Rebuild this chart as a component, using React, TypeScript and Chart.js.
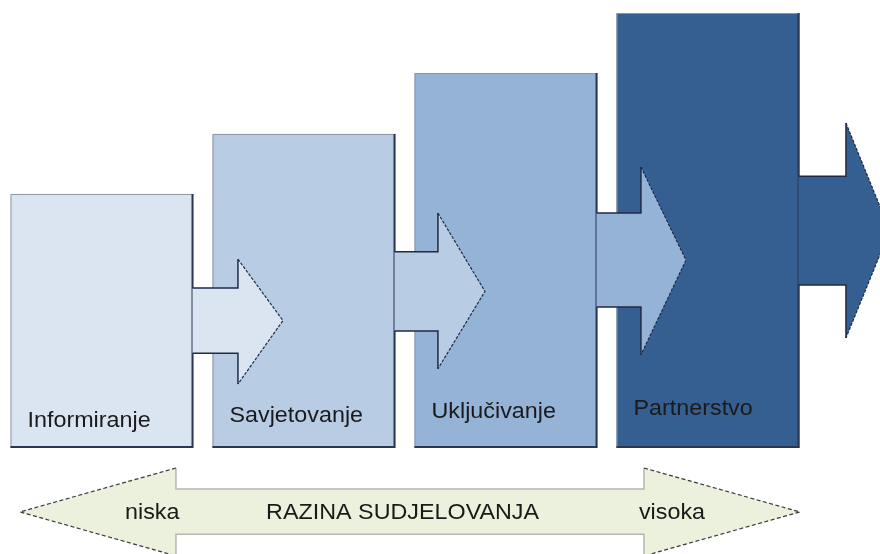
import { useEffect, useRef } from 'react';
import { Chart, registerables } from 'chart.js';

Chart.register(...registerables);

// Stages of participation (bar heights in relative units)
const categories = ['Informiranje', 'Savjetovanje', 'Uključivanje', 'Partnerstvo'];
const levels = [58.4, 72.2, 86.2, 100];

// Connecting arrows (y in value units, x in category-index units)
const shaftTop = [36.8, 45.1, 54.0, 62.5];
const shaftBottom = [21.8, 26.9, 32.4, 37.5];
const headTop = [43.4, 54.0, 64.6, 74.7];
const headBottom = [14.7, 18.2, 21.4, 25.3];
const headBase = [0.673, 1.663, 2.668, 3.683];
const headTip = [0.896, 1.896, 2.891, 3.9];

// Bottom double-headed scale arrow
const scaleTitle = 'RAZINA SUDJELOVANJA';
const scaleEnds = ['niska', 'visoka'];
const scaleArrowX = [-0.406, 0.366, 2.683, 3.455]; // left tip, left head base, right head base, right tip
const scaleArrowY = [-4.6, -9.4, -14.7, -19.8, -24.8]; // head top, shaft top, centre, shaft bottom, head bottom
const scaleTextX = [0.114, 1.488, 2.658]; // niska (left), title (centre), visoka (left)

const barColors = ['#DBE5F1', '#B8CCE4', '#95B3D7', '#365F91'];
const labelLift = [21, 26, 30, 33];
const TEXT_STRETCH = 1.06;

function stretchedText(ctx: CanvasRenderingContext2D, text: string, x: number, y: number, align: CanvasTextAlign) {
  ctx.save();
  ctx.translate(x, y);
  ctx.scale(TEXT_STRETCH, 1);
  ctx.textAlign = align;
  ctx.fillText(text, 0, 0);
  ctx.restore();
}

const diagramPlugin = {
  id: 'diagram',
  afterDatasetsDraw(chart: any) {
    const ctx: CanvasRenderingContext2D = chart.ctx;
    const xs = chart.scales.x;
    const ys = chart.scales.y;
    const meta = chart.getDatasetMeta(0);
    const bars = meta.data.map((b: any) => b.getProps(['x', 'y', 'base', 'width'], true));

    // bar borders
    bars.forEach((b: any) => {
      const l = b.x - b.width / 2;
      const r = b.x + b.width / 2;
      ctx.save();
      ctx.strokeStyle = '#8d96a3';
      ctx.lineWidth = 1;
      ctx.beginPath();
      ctx.moveTo(l + 0.5, b.base);
      ctx.lineTo(l + 0.5, b.y + 0.5);
      ctx.lineTo(r, b.y + 0.5);
      ctx.stroke();
      ctx.strokeStyle = '#2a3752';
      ctx.lineWidth = 2;
      ctx.beginPath();
      ctx.moveTo(r - 1, b.y);
      ctx.lineTo(r - 1, b.base - 1);
      ctx.lineTo(l, b.base - 1);
      ctx.stroke();
      ctx.restore();
    });

    // arrows
    bars.forEach((b: any, i: number) => {
      const r = b.x + b.width / 2 - 1;
      const bx = xs.getPixelForValue(headBase[i]);
      const tx = xs.getPixelForValue(headTip[i]);
      const st = ys.getPixelForValue(shaftTop[i]);
      const sb = ys.getPixelForValue(shaftBottom[i]);
      const ht = ys.getPixelForValue(headTop[i]);
      const hb = ys.getPixelForValue(headBottom[i]);
      const ty = (st + sb) / 2;
      ctx.save();
      ctx.fillStyle = barColors[i];
      ctx.beginPath();
      ctx.moveTo(r, st);
      ctx.lineTo(bx, st);
      ctx.lineTo(bx, ht);
      ctx.lineTo(tx, ty);
      ctx.lineTo(bx, hb);
      ctx.lineTo(bx, sb);
      ctx.lineTo(r, sb);
      ctx.closePath();
      ctx.fill();
      ctx.strokeStyle = '#1f2b45';
      ctx.lineWidth = 1.5;
      ctx.beginPath();
      ctx.moveTo(r, st);
      ctx.lineTo(bx, st);
      ctx.lineTo(bx, ht);
      ctx.stroke();
      ctx.beginPath();
      ctx.moveTo(bx, hb);
      ctx.lineTo(bx, sb);
      ctx.lineTo(r, sb);
      ctx.stroke();
      ctx.lineWidth = 1.2;
      ctx.setLineDash([3, 1.5]);
      ctx.beginPath();
      ctx.moveTo(bx, ht);
      ctx.lineTo(tx, ty);
      ctx.lineTo(bx, hb);
      ctx.stroke();
      ctx.restore();
    });

    // labels
    ctx.save();
    ctx.font = '22px "Liberation Sans", Arial, sans-serif';
    ctx.fillStyle = '#1a1a1a';
    ctx.textBaseline = 'alphabetic';
    bars.forEach((b: any, i: number) => {
      stretchedText(ctx, categories[i], b.x - b.width / 2 + 17, b.base - labelLift[i], 'left');
    });
    ctx.restore();

    // bottom scale arrow
    const [x0, x1, x2, x3] = scaleArrowX.map((v) => xs.getPixelForValue(v));
    const [yHt, ySt, yC, ySb, yHb] = scaleArrowY.map((v) => ys.getPixelForValue(v));
    ctx.save();
    ctx.fillStyle = '#EBF1DD';
    ctx.beginPath();
    ctx.moveTo(x0, yC);
    ctx.lineTo(x1, yHt);
    ctx.lineTo(x1, ySt);
    ctx.lineTo(x2, ySt);
    ctx.lineTo(x2, yHt);
    ctx.lineTo(x3, yC);
    ctx.lineTo(x2, yHb);
    ctx.lineTo(x2, ySb);
    ctx.lineTo(x1, ySb);
    ctx.lineTo(x1, yHb);
    ctx.closePath();
    ctx.fill();
    ctx.strokeStyle = '#b4b8ae';
    ctx.lineWidth = 1.5;
    ctx.beginPath();
    ctx.moveTo(x1, yHt);
    ctx.lineTo(x1, ySt);
    ctx.lineTo(x2, ySt);
    ctx.lineTo(x2, yHt);
    ctx.moveTo(x2, yHb);
    ctx.lineTo(x2, ySb);
    ctx.lineTo(x1, ySb);
    ctx.lineTo(x1, yHb);
    ctx.stroke();
    ctx.strokeStyle = '#3a3a3a';
    ctx.lineWidth = 1.2;
    ctx.setLineDash([4, 2.5]);
    ctx.beginPath();
    ctx.moveTo(x1, yHt);
    ctx.lineTo(x0, yC);
    ctx.lineTo(x1, yHb);
    ctx.moveTo(x2, yHt);
    ctx.lineTo(x3, yC);
    ctx.lineTo(x2, yHb);
    ctx.stroke();
    ctx.setLineDash([]);
    ctx.font = '22px "Liberation Sans", Arial, sans-serif';
    ctx.fillStyle = '#1a1a1a';
    ctx.textBaseline = 'alphabetic';
    const baseY = yC + 7;
    stretchedText(ctx, scaleEnds[0], xs.getPixelForValue(scaleTextX[0]), baseY, 'left');
    stretchedText(ctx, scaleTitle, xs.getPixelForValue(scaleTextX[1]), baseY, 'center');
    stretchedText(ctx, scaleEnds[1], xs.getPixelForValue(scaleTextX[2]), baseY, 'left');
    ctx.restore();
  },
};

export default function App() {
  const ref = useRef<HTMLCanvasElement | null>(null);
  useEffect(() => {
    if (!ref.current) return;
    const chart = new Chart(ref.current, {
      type: 'bar',
      data: {
        labels: categories,
        datasets: [
          {
            data: levels,
            backgroundColor: barColors,
            borderWidth: 0,
            barPercentage: 0.906,
            categoryPercentage: 1,
          },
        ],
      },
      options: {
        animation: false,
        responsive: false,
        devicePixelRatio: 1,
        layout: { padding: { left: 1, right: 71, top: 13, bottom: 106 } },
        plugins: { legend: { display: false }, tooltip: { enabled: false }, title: { display: false } },
        events: [],
        scales: {
          x: { display: false, offset: true },
          y: { display: false, min: 0, max: 100 },
        },
      },
      plugins: [diagramPlugin],
    });
    return () => chart.destroy();
  }, []);
  return (
    <div style={{ position: 'absolute', left: 0, top: 0, width: 880, height: 554, background: '#fff' }}>
      <canvas ref={ref} width={880} height={554} />
    </div>
  );
}
